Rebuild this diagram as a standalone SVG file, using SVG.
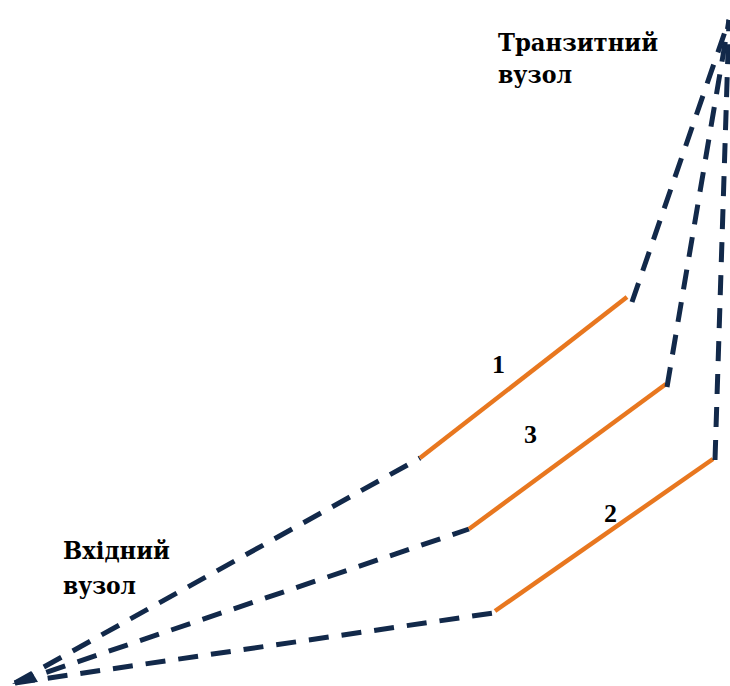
<svg xmlns="http://www.w3.org/2000/svg" width="730" height="686" viewBox="0 0 730 686">
<style>
.dash{fill:none;stroke:#12294a;stroke-width:5;stroke-dasharray:20 13}
.seg{fill:none;stroke:#e8771f;stroke-width:4.5}
.lbl{font-family:"DejaVu Serif Condensed","DejaVu Serif",serif;font-weight:bold;font-size:25px;fill:#000}
.num{font-family:"Liberation Serif","Times New Roman",serif;font-weight:bold;font-size:26px;fill:#000}
</style>
<rect width="730" height="686" fill="#fff"/>
<g id="connectors">
<path class="dash" d="M15,683 L420,458"/>
<path class="seg" d="M420,458 L627,297"/>
<path class="dash" d="M632,302 L729,20"/>
<path class="dash" d="M15,683 L469,529"/>
<path class="seg" d="M469,529 L666,384"/>
<path class="dash" d="M667,387 L729,20"/>
<path class="dash" d="M15,683 L500,612"/>
<path class="seg" d="M495,611 L713,459"/>
<path class="dash" d="M715,460 L729,20"/>
<path d="M12,684 L32,672 L38,682 Z" fill="#12294a"/>
</g>
<g id="transit">
<text class="lbl" x="498" y="51" textLength="160" lengthAdjust="spacingAndGlyphs">Транзитний</text>
<text class="lbl" x="498" y="83" textLength="74" lengthAdjust="spacingAndGlyphs">вузол</text>
</g>
<g id="entry">
<text class="lbl" x="63" y="559" textLength="107" lengthAdjust="spacingAndGlyphs">Вхідний</text>
<text class="lbl" x="63" y="594" textLength="73" lengthAdjust="spacingAndGlyphs">вузол</text>
</g>
<g id="labels">
<text class="num" x="492" y="373">1</text>
<text class="num" x="524" y="443">3</text>
<text class="num" x="604" y="522">2</text>
</g>
</svg>
